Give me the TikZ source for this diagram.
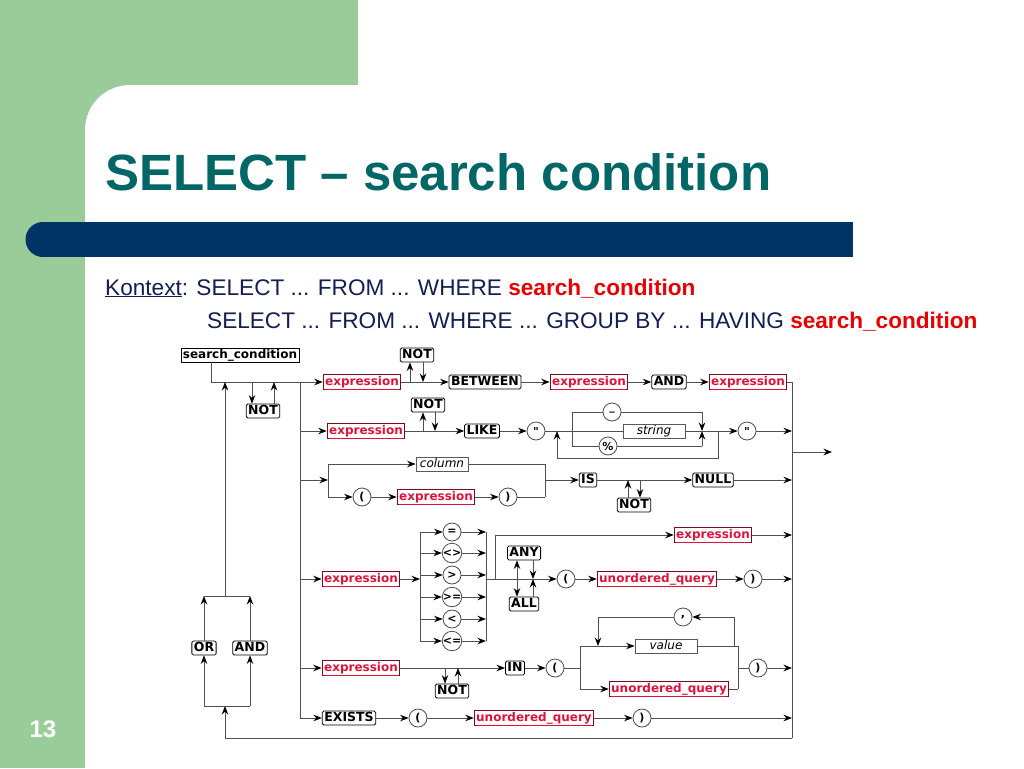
\documentclass[tikz,border=0pt]{standalone}
\usepackage{fontspec}
\setmainfont{Liberation Sans}
\newfontfamily\dgfont{DejaVu Sans}
\usepackage{tikz}
\usetikzlibrary{arrows.meta,positioning}
\definecolor{slidegreen}{RGB}{153,204,153}
\definecolor{slideblue}{RGB}{0,51,102}
\definecolor{titleteal}{RGB}{0,102,102}
\definecolor{ctxnavy}{RGB}{20,30,80}
\definecolor{ctxred}{RGB}{230,0,0}
\definecolor{refred}{RGB}{220,20,60}
\definecolor{wire}{RGB}{80,80,80}

\begin{document}
\begin{tikzpicture}[x=1pt,y=-1pt,
  kw/.style={draw=black,rounded corners=1.5pt,fill=white,font={\dgfont\bfseries\fontsize{12.5}{14}\selectfont},inner xsep=2pt,inner ysep=1.5pt,text height=9pt,text depth=2pt,line width=0.8pt},
  ref/.style={draw=refred!55!black,fill=white,text=refred,font={\dgfont\bfseries\fontsize{12}{14}\selectfont},inner xsep=2pt,inner ysep=1.5pt,text height=9pt,text depth=2.5pt,line width=0.8pt},
  term/.style={draw=black!65,fill=white,font={\dgfont\itshape\fontsize{12}{13}\selectfont},inner ysep=1.5pt,text height=9pt,text depth=2pt,minimum width=62pt,line width=0.8pt},
  tok/.style={circle,draw=black!70,fill=white,inner sep=0pt,minimum size=18pt,font={\dgfont\bfseries\fontsize{11}{11}\selectfont},line width=0.8pt},
  wire/.style={draw=wire,line width=0.9pt},
  arr/.style={wire,-{Stealth[length=8.5pt,width=6.5pt,color=black]}},
  twoarr/.style={wire,{Stealth[length=8.5pt,width=6.5pt,color=black]}-{Stealth[length=8.5pt,width=6.5pt,color=black]}},
]
\useasboundingbox (0,0) rectangle (1024,768);
\fill[slidegreen] (0,0) rectangle (358,200);
\fill[slidegreen] (0,0) rectangle (85,768);
\fill[white,rounded corners=45pt] (85,768) -- (85,85) -- (1024,85) [sharp corners] -- (1024,768) -- cycle;
\fill[slideblue] (43,222) rectangle (853,257);
\fill[slideblue] (43,239.5) circle[radius=17.5pt];
\node[anchor=base west,text=titleteal,font=\fontsize{51}{60}\selectfont\bfseries,inner sep=0pt] (title) at (105,190) {SELECT – search condition};
\node[anchor=base west,text=ctxnavy,font=\fontsize{22.6}{26}\selectfont,inner sep=0pt] (ctx1) at (105,295) {\underline{Kontext}: SELECT ... FROM ... WHERE \textcolor{ctxred}{\bfseries search\_condition}};
\node[anchor=base west,text=ctxnavy,font=\fontsize{22.6}{26}\selectfont,inner sep=0pt] (ctx2) at (207,328) {SELECT ... FROM ... WHERE ... GROUP BY ... HAVING \textcolor{ctxred}{\bfseries search\_condition}};
\node[text=white,font=\fontsize{24}{28}\selectfont\bfseries] (page) at (43,729) {13};

\coordinate (start) at (211,382);
\coordinate (br1) at (300,382);
\coordinate (br2) at (300,431);
\coordinate (br3) at (300,480);
\coordinate (br4) at (300,579);
\coordinate (br5) at (300,668);
\coordinate (br6) at (300,718);
\coordinate (rtop) at (792,382);
\coordinate (rbot) at (792,738);
\coordinate (rexit) at (792,452);
\coordinate (exit) at (832,452);
\coordinate (back) at (225,738);
\coordinate (backjoin) at (225,706);
\coordinate (orlow) at (204,706);
\coordinate (andlow) at (250,706);
\coordinate (orhigh) at (204,596);
\coordinate (andhigh) at (250,596);
\coordinate (backtop) at (225,596);
\coordinate (backend) at (225,382);

\node[kw,sharp corners,font={\dgfont\bfseries\fontsize{12}{14}\selectfont}] (sc) at (240,355) {search\_condition};
\node[kw] (n0) at (263,411) {NOT};
\node[kw] (orkw) at (204,648) {OR};
\node[kw] (andkw) at (250,648) {AND};

\node[ref] (e1) at (362,382) {\underline{expression}};
\node[kw] (n1) at (417,355) {NOT};
\node[kw] (btw) at (485,382) {BETWEEN};
\node[ref] (e2) at (589,382) {\underline{expression}};
\node[kw] (andkw2) at (669,382) {AND};
\node[ref] (e3) at (748,382) {\underline{expression}};

\node[ref] (e4) at (366,431) {\underline{expression}};
\node[kw] (n2) at (428,405) {NOT};
\node[kw] (likekw) at (482,431) {LIKE};
\node[tok] (q1) at (536,431) {"};
\node[tok] (us) at (612,412) {\_};
\node[term] (str) at (654,431) {string};
\node[tok] (pct) at (608,446) {\%};
\node[tok] (q2) at (747,431) {"};
\coordinate (lp1) at (557,431);
\coordinate (lpb) at (557,458);
\coordinate (rpb) at (718,458);
\coordinate (rj) at (718,431);
\coordinate (sl) at (572,431);
\coordinate (slt) at (572,412);
\coordinate (slb) at (572,446);
\coordinate (sr) at (702,431);
\coordinate (srt) at (702,412);
\coordinate (srb) at (702,446);

\coordinate (sp3) at (328,480);
\coordinate (sp3t) at (328,464);
\coordinate (sp3b) at (328,497);
\coordinate (jn3) at (545,480);
\coordinate (jn3t) at (545,464);
\coordinate (jn3b) at (545,497);
\node[term,minimum width=52pt] (col) at (442,464) {column};
\node[tok] (lp5) at (362,497) {(};
\node[ref] (e5) at (436,497) {\underline{expression}};
\node[tok] (rp5) at (508,497) {)};
\node[kw] (iskw) at (588,480) {IS};
\node[kw] (n3) at (634,505) {NOT};
\node[kw] (nullkw) at (713,480) {NULL};

\node[ref] (e6) at (361,579) {\underline{expression}};
\coordinate (opl) at (420,579);
\coordinate (oplt) at (420,532);
\coordinate (oplb) at (420,641);
\coordinate (opr) at (486,579);
\coordinate (oprt) at (486,532);
\coordinate (oprb) at (486,641);
\coordinate (jn4) at (495,579);
\coordinate (jn4t) at (495,535);
\node[ref] (e7) at (713,535) {\underline{expression}};
\node[kw] (any) at (524,553) {ANY};
\node[kw] (all) at (524,604) {ALL};
\node[tok] (lp6) at (566,579) {(};
\node[ref] (uq1) at (657,579) {\underline{unordered\_query}};
\node[tok] (rp6) at (753,579) {)};

\node[ref] (e8) at (361,668) {\underline{expression}};
\node[kw] (n4) at (452,691) {NOT};
\node[kw] (inkw) at (515,668) {IN};
\node[tok] (lp7) at (555,668) {(};
\coordinate (sp5) at (580,668);
\coordinate (sp5t) at (580,646);
\coordinate (sp5b) at (580,689);
\node[term] (val) at (666,646) {value};
\node[ref] (uq2) at (669,689) {\underline{unordered\_query}};
\coordinate (jn5) at (738,668);
\coordinate (jn5t) at (738,646);
\coordinate (jn5b) at (738,689);
\node[tok] (comma) at (683,617) {,};
\coordinate (cmr) at (734,617);
\coordinate (cmrb) at (734,646);
\coordinate (cml) at (598,617);
\coordinate (cmlb) at (598,646);
\node[tok] (rp7) at (758,668) {)};

\node[kw] (ex) at (349,718) {EXISTS};
\node[tok] (lp8) at (418,718) {(};
\node[ref] (uq3) at (534,718) {\underline{unordered\_query}};
\node[tok] (rp8) at (642,718) {)};

\draw[wire] (sc.south -| start) -- (start) -- (br1);
\draw[wire] (br1) -- (br6);
\draw[arr] ([xshift=-11pt]n0.north |- start) -- ([xshift=-11pt]n0.north);
\draw[arr] ([xshift=11pt]n0.north) -- ([xshift=11pt]n0.north |- start);
\draw[arr] (rbot) -- (back) -- (backjoin);
\draw[wire] (orlow) -- (andlow);
\draw[arr] (orlow) -- (orkw);
\draw[arr] (andlow) -- (andkw);
\draw[arr] (orkw) -- (orhigh);
\draw[arr] (andkw) -- (andhigh);
\draw[wire] (orhigh) -- (andhigh);
\draw[arr] (backtop) -- (backend);
\draw[wire] (rtop) -- (rbot);
\draw[arr] (rexit) -- (exit);

\draw[arr] (br1) -- (e1);
\draw[arr] (e1) -- (btw);
\draw[arr] ([xshift=-7pt]n1.south |- e1) -- ([xshift=-7pt]n1.south);
\draw[arr] ([xshift=6pt]n1.south) -- ([xshift=6pt]n1.south |- e1);
\draw[arr] (btw) -- (e2);
\draw[arr] (e2) -- (andkw2);
\draw[arr] (andkw2) -- (e3);
\draw[wire] (e3) -- (rtop);

\draw[arr] (br2) -- (e4);
\draw[arr] (e4) -- (likekw);
\draw[arr] ([xshift=-5pt]n2.south |- e4) -- ([xshift=-5pt]n2.south);
\draw[arr] ([xshift=7pt]n2.south) -- ([xshift=7pt]n2.south |- e4);
\draw[arr] (likekw) -- (q1);
\draw[wire] (q1) -- (sl);
\draw[wire] (slt) -- (slb);
\draw[wire] (slt) -- (us) -- (srt);
\draw[arr] (srt) -- (sr);
\draw[wire] (slb) -- (pct) -- (srb);
\draw[arr] (srb) -- (sr);
\draw[wire] (sl) -- (str) -- (rj);
\draw[arr] (rj) -- (rpb) -- (lpb) -- (lp1);
\draw[arr] (rj) -- (q2);
\draw[arr] (q2) -- (q2 -| rtop);

\draw[arr] (br3) -- (sp3);
\draw[wire] (sp3t) -- (sp3b);
\draw[arr] (sp3t) -- (col);
\draw[wire] (col) -- (jn3t) -- (jn3b);
\draw[arr] (sp3b) -- (lp5);
\draw[arr] (lp5) -- (e5);
\draw[arr] (e5) -- (rp5);
\draw[wire] (rp5) -- (jn3b);
\draw[arr] (jn3) -- (iskw);
\draw[arr] (iskw) -- (nullkw);
\draw[arr] ([xshift=-6pt]n3.north) -- ([xshift=-6pt]n3.north |- iskw);
\draw[arr] ([xshift=6pt]n3.north |- iskw) -- ([xshift=6pt]n3.north);
\draw[arr] (nullkw) -- (nullkw -| rtop);

\draw[arr] (br4) -- (e6);
\draw[arr] (e6) -- (opl);
\draw[wire] (oplt) -- (oplb);
\draw[wire] (oprt) -- (oprb);
\foreach \y/\s [count=\i] in {532/=,553/<>,575/>,597/>=,619/<,641/<=} {
  \node[tok] (op\i) at (452,\y) {\s};
  \draw[arr] (op\i -| opl) -- (op\i);
  \draw[arr] (op\i) -- (op\i -| opr);
}
\draw[wire] (opr) -- (jn4) -- (jn4t);
\draw[arr] (jn4t) -- (e7);
\draw[arr] (e7) -- (e7 -| rtop);
\draw[twoarr] ([xshift=-7pt]any.south) -- ([xshift=-7pt]all.north);
\draw[arr] ([xshift=9pt]any.south) -- ([xshift=9pt]any.south |- jn4);
\draw[arr] ([xshift=9pt]all.north) -- ([xshift=9pt]all.north |- jn4);
\draw[arr] (jn4) -- (lp6);
\draw[arr] (lp6) -- (uq1);
\draw[arr] (uq1) -- (rp6);
\draw[arr] (rp6) -- (rp6 -| rtop);

\draw[arr] (br5) -- (e8);
\draw[arr] (e8) -- (inkw);
\draw[arr] ([xshift=-7pt]n4.north |- e8) -- ([xshift=-7pt]n4.north);
\draw[arr] ([xshift=6pt]n4.north) -- ([xshift=6pt]n4.north |- e8);
\draw[arr] (inkw) -- (lp7);
\draw[wire] (lp7) -- (sp5);
\draw[wire] (sp5t) -- (sp5b);
\draw[arr] (sp5t) -- (val);
\draw[wire] (val) -- (jn5t) -- (jn5b);
\draw[arr] (sp5b) -- (uq2);
\draw[wire] (uq2) -- (jn5b);
\draw[arr] (cmrb) -- (cmr) -- (comma);
\draw[arr] (comma) -- (cml) -- (cmlb);
\draw[wire] (jn5) -- (rp7);
\draw[arr] (rp7) -- (rp7 -| rtop);

\draw[arr] (br6) -- (ex);
\draw[arr] (ex) -- (lp8);
\draw[arr] (lp8) -- (uq3);
\draw[arr] (uq3) -- (rp8);
\draw[arr] (rp8) -- (rp8 -| rtop);
\end{tikzpicture}
\end{document}
